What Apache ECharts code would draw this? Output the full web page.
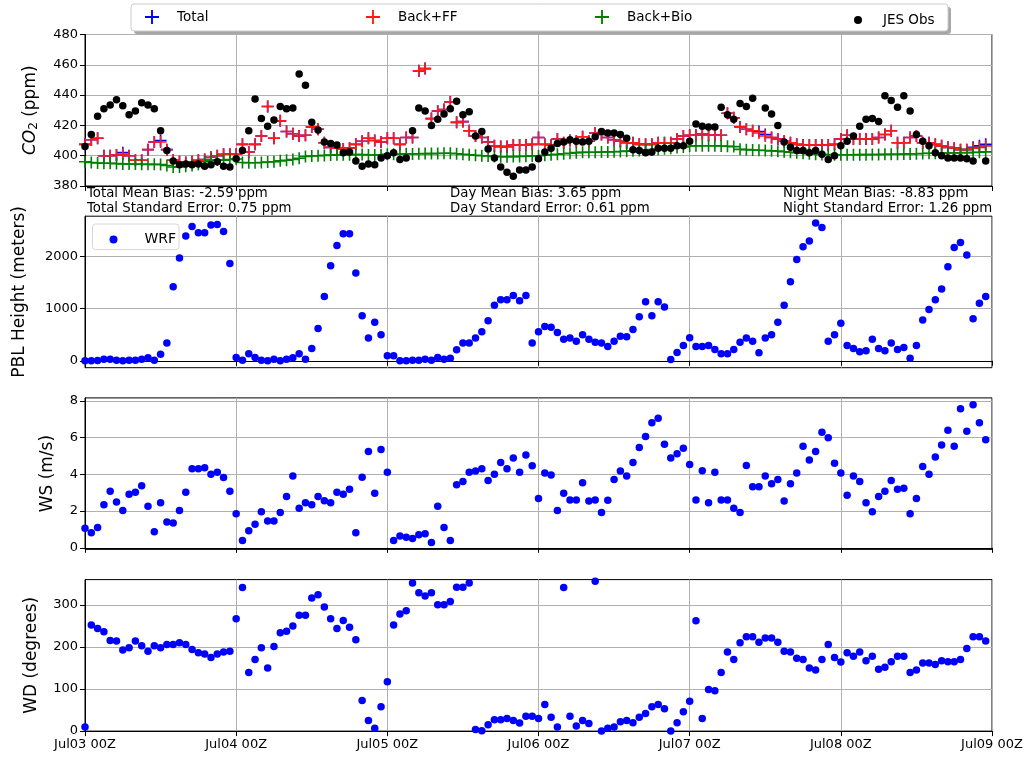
<!DOCTYPE html>
<html>
<head>
<meta charset="utf-8">
<script src="https://cdn.jsdelivr.net/npm/echarts@6/dist/echarts.min.js"></script>
<style>
  html, body { margin: 0; padding: 0; background: #fff; }
  #chart { width: 1029px; height: 759px; }
</style>
</head>
<body>
<div id="chart"></div>
<script>
// Hourly values, Jul03 00Z (hour 0) to Jul08 23Z (hour 143)
const dayLabels = ['Jul03 00Z', 'Jul04 00Z', 'Jul05 00Z', 'Jul06 00Z', 'Jul07 00Z', 'Jul08 00Z', 'Jul09 00Z'];

// CO2 (ppm)
const co2Total = [
  407.5, 410.5, 411.5, 400, 400, 400.5, 402, 400, 397, 397, 404, 409, 410, 404, 397, 396, 395.5, 396, 397, 397.5, 399, 400, 401, 401,
  401, 407.5, 402.5, 407.5, 413, 432.5, 411.5, 423, 416, 414.5, 413, 413.5, 419, 417.5, 408.5, 405.5, 405, 404.5, 405, 407.5, 409.5, 411.5, 410, 409,
  411.5, 411.5, 407.5, 412, 412, 456, 457.5, 424.5, 429.5, 430.5, 435.5, 422, 422.5, 416.5, 413, 412, 409, 406.5, 406, 406, 407, 407, 407, 407.5,
  412, 407.5, 407, 411, 408.5, 410, 409.5, 412.5, 409.5, 415, 414, 412, 410.5, 409.5, 408.5, 408.5, 407.5, 407.5, 407.5, 408.5, 408.5, 408.5, 411, 413,
  413.5, 413.5, 414.5, 413.5, 413.5, 413.5, 428, 425, 419, 417.5, 416.5, 416, 414, 412, 411, 409.5, 408.5, 407.5, 407, 407, 407, 407, 407, 407.5,
  411, 413.5, 411, 411, 411, 411, 412, 414, 416.5, 408.5, 408.5, 412, 413, 408.5, 408.5, 407.5, 406.5, 405.5, 405, 404, 404, 405.5, 406.5, 407.5
];
const co2BackFF = [
  407.5, 410.5, 411.5, 400, 400, 400.5, 401, 400, 397, 397, 404, 409, 409, 404, 397, 396, 395.5, 396, 397, 397.5, 399, 400, 401, 401,
  401, 407.5, 402.5, 407.5, 413, 432.5, 411.5, 423, 416, 414.5, 413, 413.5, 419, 417.5, 408.5, 405.5, 405, 404.5, 405, 407.5, 409.5, 411.5, 410, 409,
  411.5, 411.5, 407.5, 412, 412, 456, 457.5, 424.5, 429.5, 430.5, 435.5, 422, 422.5, 416.5, 413, 412, 409, 406.5, 406, 406, 407, 407, 407, 407.5,
  412, 407.5, 407, 411, 408.5, 410, 409.5, 412.5, 409.5, 415, 414, 412, 410.5, 409.5, 408.5, 408.5, 407.5, 407.5, 407.5, 408.5, 408.5, 408.5, 411, 413,
  413.5, 413.5, 414.5, 413.5, 413.5, 413.5, 428, 425, 419, 417.5, 416.5, 415, 413, 412, 411, 409.5, 408.5, 407.5, 407, 407, 407, 407, 407, 407.5,
  411, 413.5, 411, 411, 411, 411, 412, 414, 416.5, 408.5, 408.5, 412, 413, 408.5, 408.5, 407.5, 406.5, 405.5, 405, 404, 404, 405, 405.5, 406.5
];
const co2BackBio = [
  396, 395.5, 395.2, 395, 395, 394.8, 394.6, 394.5, 394.5, 394.4, 394.3, 394.3, 394.2, 393.5, 392.5, 392.6, 393, 393.6, 394.4, 396, 397, 397.2, 397, 397.5,
  397.8, 395.5, 395.3, 395.3, 395.5, 395.8, 396, 396.6, 397, 397.5, 398.3, 399.5, 399.8, 400, 400.2, 400.4, 400.6, 400.6, 400.7, 400.7, 400.8, 400.5, 400.5, 400.6,
  401, 401, 401, 401.3, 401.2, 401.3, 401.4, 401.4, 401.5, 401.6, 401.6, 401.3, 401, 400.6, 400.3, 400, 399.8, 399.5, 399.3, 399.3, 399.4, 399.5, 399.6, 399.8,
  400, 400.3, 400.6, 401, 401.3, 401.6, 402, 402.2, 402.3, 402.3, 402.4, 402.5, 402.6, 402.8, 403, 403.2, 403.5, 403.7, 404, 404.3, 404.6, 405, 405.4, 405.8,
  406.4, 406.5, 406.6, 406.6, 406.6, 406.4, 406.2, 406, 404.2, 404, 403.8, 403.6, 403.4, 403.2, 403, 402.6, 402.3, 402, 401.6, 401.3, 401, 400.8, 400.7, 400.6,
  400.6, 400.6, 400.6, 400.7, 400.7, 400.8, 400.8, 400.9, 401, 401, 401.1, 401.2, 401.3, 401.5, 401.6, 401.6, 401.7, 401.8, 401.8, 401.9, 402, 402.1, 402.3, 402.5
];
const co2Obs = [
  406, 414, 426, 431, 433.5, 437, 433, 427, 429.5, 435, 433.5, 431, 416.5, 403.5, 396.5, 394, 394.5, 394, 394.5, 393, 394, 396, 393, 392.5,
  398, 403.5, 416.5, 437.5, 424.5, 419.5, 423.5, 432.5, 431, 431.5, 454, 446.5, 422, 417, 409, 408, 407, 402, 402.5, 396.5, 393, 394.5, 394, 398.5,
  400, 402, 397.5, 398.5, 416.5, 431.5, 429.5, 420, 424, 427.5, 431, 436, 427, 429, 413, 416, 404.5, 398.5, 392.5, 389, 386.5, 390.5, 390.5, 392.5,
  398, 402.5, 405, 408, 409, 410.5, 409.5, 409, 409.5, 412.5, 416, 415, 415, 414, 411.5, 404, 403.5, 402, 402.5, 405, 405, 405, 406.5, 406.5,
  409.5, 421, 419.5, 419, 419, 432, 427, 424, 434.5, 432.5, 438, null, 431.5, 427.5, 420, 409, 405.5, 403.5, 403.5, 402, 403.5, 401, 397.5, 400,
  406.5, 409.5, 413, 419.5, 424, 424.5, 422.5, 439.5, 436.5, 432, 439.5, 429.5, 414, 409.5, 406.5, 402, 400, 398.5, 398.5, 398.5, 398, 396.5, null, 396.5
];

// WRF boundary layer height (m)
const pblHeight = [
  0, 0, 5, 32, 32, 13, 0, 13, 13, 32, 58, 13, 128, 339, 1419, 1968, 2390, 2575, 2454, 2454, 2601, 2614, 2479, 1866,
  64, 13, 134, 64, 13, 0, 32, 0, 32, 58, 134, 32, 236, 620, 1233, 1821, 2211, 2435, 2435, 1681, 863, 435, 741, 498,
  96, 96, 0, 0, 13, 13, 32, 13, 64, 32, 51, 211, 339, 339, 435, 556, 767, 1067, 1169, 1169, 1252, 1150, 1252, 339,
  556, 658, 645, 543, 415, 435, 377, 498, 415, 358, 339, 275, 377, 473, 460, 601, 843, 1131, 863, 1131, 1029, 26, 160, 294,
  441, 275, 275, 294, 217, 134, 134, 217, 358, 435, 377, 153, 435, 498, 741, 1067, 1514, 1943, 2185, 2294, 2639, 2556, 377, 498,
  722, 294, 236, 173, 192, 415, 236, 192, 339, 217, 256, 51, 294, 780, 984, 1169, 1374, 1802, 2173, 2268, 2026, 805, 1105, 1233
];

// WRF wind speed (m/s)
const windSpeed = [
  1.06, 0.82, 1.11, 2.34, 3.08, 2.5, 2.03, 2.92, 3.03, 3.38, 2.26, 0.88, 2.45, 1.41, 1.35, 2.03, 3.03, 4.31, 4.31, 4.36, 4.01, 4.12, 3.83, 3.08,
  1.86, 0.4, 0.93, 1.28, 1.97, 1.46, 1.46, 1.92, 2.79, 3.91, 2.15, 2.45, 2.34, 2.79, 2.57, 2.45, 3.03, 2.92, 3.19, 0.82, 3.85, 5.24, 2.97, 5.35,
  4.12, 0.4, 0.64, 0.58, 0.51, 0.71, 0.77, 0.29, 2.26, 1.11, 0.4, 3.43, 3.61, 4.12, 4.18, 4.31, 3.67, 4.01, 4.65, 4.31, 4.89, 4.12, 5.05, 4.47,
  2.68, 4.07, 3.96, 2.03, 2.97, 2.61, 2.61, 3.54, 2.55, 2.61, 1.92, 2.59, 3.72, 4.18, 3.91, 4.65, 5.47, 6.06, 6.81, 7.06, 5.64, 4.89, 5.13, 5.42,
  4.54, 2.61, 4.2, 2.45, 4.12, 2.61, 2.61, 2.15, 1.92, 4.49, 3.32, 3.32, 3.91, 3.49, 3.72, 2.55, 3.49, 4.07, 5.53, 4.78, 5.24, 6.3, 6.0, 4.6,
  4.07, 2.86, 3.91, 3.61, 2.45, 1.97, 2.79, 3.08, 3.67, 3.19, 3.25, 1.86, 2.68, 4.43, 4.01, 4.95, 5.6, 6.41, 5.53, 7.57, 6.35, 7.79, 6.81, 5.88
];

// WRF wind direction (degrees)
const windDir = [
  10, 252, 244, 236, 215, 214, 193, 198, 214, 203, 190, 203, 198, 206, 206, 210, 206, 194, 186, 183, 175, 183, 188, 190,
  267, 341, 139, 170, 198, 150, 201, 234, 237, 250, 275, 275, 316, 324, 295, 267, 244, 263, 247, 217, 73, 25, 7, 58,
  117, 252, 278, 286, 352, 329, 321, 329, 300, 300, 308, 342, 342, 352, 4, 1, 15, 27, 27, 30, 25, 19, 35, 35,
  30, 63, 33, 10, 341, 35, 12, 25, 18, 356, 0, 7, 10, 22, 25, 20, 33, 42, 58, 63, 53, 0, 20, 46,
  71, 262, 30, 99, 96, 139, 188, 170, 210, 224, 224, 211, 221, 221, 211, 190, 188, 173, 170, 150, 145, 170, 206, 175,
  164, 186, 178, 188, 167, 178, 147, 152, 165, 178, 178, 139, 145, 162, 162, 158, 167, 165, 165, 170, 196, 224, 224, 214
];

const co2Ticks = [380, 400, 420, 440, 460, 480];
const pblTicks = [0, 1000, 2000];
const wsTicks = [0, 2, 4, 6, 8];
const wdTicks = [0, 100, 200, 300];

const statsLeft = ['Total Mean Bias: -2.59 ppm', 'Total Standard Error: 0.75 ppm'];
const statsMid = ['Day Mean Bias: 3.65 ppm', 'Day Standard Error: 0.61 ppm'];
const statsRight = ['Night Mean Bias: -8.83 ppm', 'Night Standard Error: 1.26 ppm'];

// ---------------------------------------------------------------------------
const FONT = 'DejaVu Sans';
const GRID_COLOR = '#b0b0b0';
const PLUS = 'path://M-0.8,-6H0.8V-0.8H6V0.8H0.8V6H-0.8V0.8H-6V-0.8H-0.8Z';

function points(values) {
  const out = [];
  values.forEach((v, i) => { if (v !== null) out.push([i, v]); });
  return out;
}

const panelTops = [34.5, 216.2, 397.9, 579.6];
const panelHeight = 151.5;

const grids = panelTops.map(t => ({
  left: 85, width: 907, top: t, height: panelHeight,
  show: true, borderColor: '#000', borderWidth: 1, backgroundColor: 'transparent'
}));

const xAxes = [0, 1, 2, 3].map(i => ({
  type: 'value', gridIndex: i, min: 0, max: 144, interval: 24,
  axisLine: { show: true, lineStyle: { color: '#000', width: 1 } },
  axisTick: { show: true, length: 5, lineStyle: { color: '#000' } },
  axisLabel: {
    show: i === 3, color: '#000', fontFamily: FONT, fontSize: 13, margin: 7,
    formatter: v => dayLabels[Math.round(v / 24)]
  },
  splitLine: { show: true, lineStyle: { color: GRID_COLOR, width: 1 } }
}));

function yAxis(idx, min, max, ticks, name, nameGap, extra) {
  return Object.assign({
    type: 'value', gridIndex: idx, min: min, max: max,
    axisLine: { show: true, lineStyle: { color: '#000', width: 1 } },
    axisTick: { show: true, length: 5, lineStyle: { color: '#000' }, customValues: ticks },
    axisLabel: {
      color: '#000', fontFamily: FONT, fontSize: 13, margin: 7, customValues: ticks,
      formatter: v => String(v)
    },
    splitLine: { show: true, lineStyle: { color: GRID_COLOR, width: 1 } },
    name: name, nameLocation: 'middle', nameRotate: 90, nameGap: nameGap,
    nameTextStyle: { color: '#000', fontFamily: FONT, fontSize: 17 }
  }, extra || {});
}

const yAxes = [
  yAxis(0, 380, 480, co2Ticks, '{it|CO}{sub|2}{n| (ppm)}', 40, {
    nameTextStyle: {
      color: '#000', fontFamily: FONT, fontSize: 17, lineHeight: 24,
      rich: {
        it: { fontStyle: 'italic', fontFamily: FONT, fontSize: 17, color: '#000', verticalAlign: 'middle' },
        sub: { fontFamily: FONT, fontSize: 12, color: '#000', verticalAlign: 'bottom', padding: [0, 0, 2, 0] },
        n: { fontFamily: FONT, fontSize: 17, color: '#000', verticalAlign: 'middle' }
      }
    }
  }),
  yAxis(1, -132, 2771, pblTicks, 'PBL Height (meters)', 57),
  yAxis(2, -0.085, 8.165, wsTicks, 'WS (m/s)', 29),
  yAxis(3, 0, 360, wdTicks, 'WD (degrees)', 45)
];

function crossSeries(name, data, color) {
  return {
    name: name, type: 'scatter', xAxisIndex: 0, yAxisIndex: 0,
    data: points(data), symbol: PLUS, symbolSize: 12,
    itemStyle: { color: color, opacity: 1 },
    emphasis: { disabled: true }, animation: false
  };
}
function dotSeries(name, data, axis, color) {
  return {
    name: name, type: 'scatter', xAxisIndex: axis, yAxisIndex: axis,
    data: points(data), symbol: 'circle', symbolSize: 7.5,
    itemStyle: { color: color, opacity: 1 },
    emphasis: { disabled: true }, animation: false
  };
}

const series = [
  crossSeries('Total', co2Total, '#0000ff'),
  crossSeries('Back+FF', co2BackFF, '#ff1a1a'),
  crossSeries('Back+Bio', co2BackBio, '#008000'),
  dotSeries('JES Obs', co2Obs, 0, '#000000'),
  dotSeries('WRF', pblHeight, 1, '#0000ff'),
  dotSeries('WRF WS', windSpeed, 2, '#0000ff'),
  dotSeries('WRF WD', windDir, 3, '#0000ff')
];

function legendAt(name, iconCenterX, textGap, iconSize) {
  return {
    data: [name], left: iconCenterX - iconSize / 2, top: 17 - iconSize / 2,
    padding: 0, itemWidth: iconSize, itemHeight: iconSize, selectedMode: false,
    textStyle: { color: '#000', fontFamily: FONT, fontSize: 13.5, padding: [0, 0, 0, textGap] }
  };
}

const legends = [
  legendAt('Total', 152, 13, 14),
  legendAt('Back+FF', 373, 13, 14),
  legendAt('Back+Bio', 602, 13, 14),
  legendAt('JES Obs', 858, 16, 8),
  {
    data: ['WRF'], left: 109.5, top: 232.5, padding: 0, itemWidth: 8, itemHeight: 8,
    selectedMode: false, z: 10,
    textStyle: { color: '#000', fontFamily: FONT, fontSize: 14, padding: [0, 0, 0, 22] }
  }
];

function statsText(lines, x) {
  return lines.map((t, k) => ({
    type: 'text', left: x, top: 187 + k * 15, z: 5,
    style: { text: t, fill: '#000', font: '13.3px "DejaVu Sans"' }
  }));
}

const graphics = [
  // top legend frame with drop shadow
  { type: 'rect', shape: { x: 134, y: 7, width: 817, height: 27, r: 3 }, style: { fill: 'rgba(0,0,0,0.35)' }, z: 0 },
  { type: 'rect', shape: { x: 131, y: 4, width: 817, height: 27, r: 3 }, style: { fill: '#fff', stroke: '#cccccc', lineWidth: 1 }, z: 1 },
  // WRF legend frame
  { type: 'rect', shape: { x: 92.5, y: 224, width: 86.5, height: 25.5, r: 3 }, style: { fill: 'rgba(255,255,255,0.8)', stroke: '#d6d6d6', lineWidth: 1 }, z: 5 }
].concat(statsText(statsLeft, 87), statsText(statsMid, 450), statsText(statsRight, 783));

const chart = echarts.init(document.getElementById('chart'), null, { renderer: 'canvas' });
chart.setOption({
  animation: false,
  backgroundColor: '#fff',
  grid: grids,
  xAxis: xAxes,
  yAxis: yAxes,
  legend: legends,
  graphic: graphics,
  series: series
});
</script>
</body>
</html>
